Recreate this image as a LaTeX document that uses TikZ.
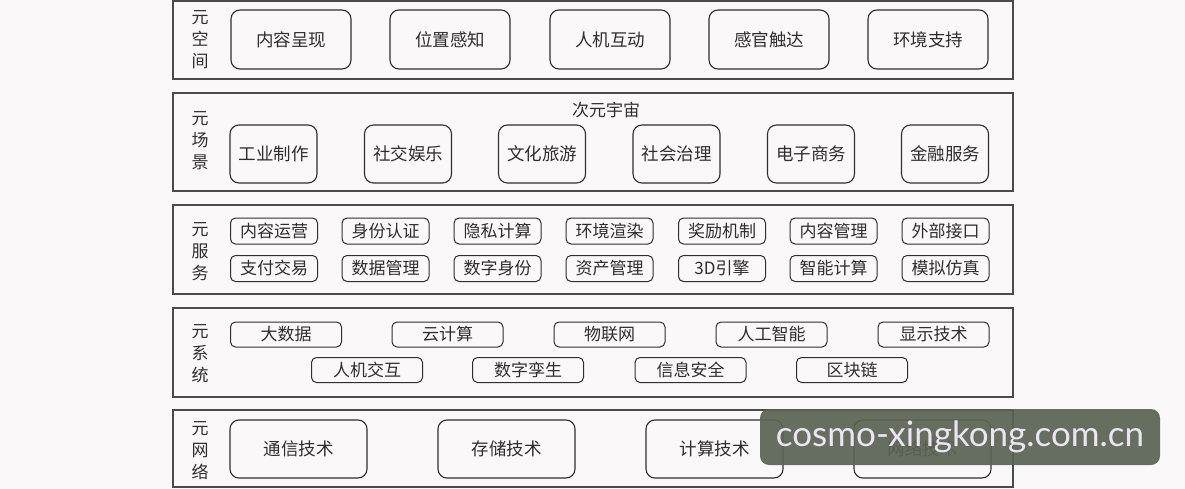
\documentclass[tikz,border=0pt]{standalone}
\usepackage{fontspec}
\usepackage{xcolor}
\usepackage{tikz}
\newfontfamily\cjk{Noto Sans CJK SC}
\newfontfamily\wmfont{Lato}
\definecolor{paper}{HTML}{FBF8FA}
\definecolor{framegray}{HTML}{4A4A4A}
\definecolor{inkgray}{HTML}{2E2E2E}
\definecolor{markgreen}{HTML}{5A6352}
\definecolor{marktext}{HTML}{ECE4F3}

\begin{document}
\begin{tikzpicture}[x=1pt,y=-1pt,
  layer/.style={draw=framegray,line width=1.3pt},
  tag/.style={align=center,inner sep=0pt,text=inkgray,font=\cjk\fontsize{17}{22}\selectfont},
  bigbox/.style={draw=inkgray,line width=1.1pt,rounded corners=9pt,inner sep=0pt,text=inkgray,
    font=\cjk\fontsize{17.5}{20}\selectfont},
  smallbox/.style={draw=inkgray,line width=1pt,rounded corners=5pt,inner sep=0pt,text=inkgray,
    font=\cjk\fontsize{17}{20}\selectfont}]
  \fill[paper] (0,0) rectangle (1185,489);
  \useasboundingbox (0,0) rectangle (1185,489);
  \draw[layer] (173,1) rectangle (1013,79);
  \draw[layer] (173,93) rectangle (1013,191);
  \draw[layer] (173,205) rectangle (1013,294);
  \draw[layer] (173,308) rectangle (1013,397);
  \draw[layer] (173,410) rectangle (1013,487);
  \node[tag] (space) at (200,40) {元\\空\\间};
  \node[tag] (scene) at (200,141) {元\\场\\景};
  \node[tag] (service) at (200,252) {元\\服\\务};
  \node[tag] (system) at (200,354) {元\\系\\统};
  \node[tag] (network) at (200,451) {元\\网\\络};
  \node[bigbox,minimum width=120pt,minimum height=59pt] (sp1) at (291,39.5) {内容呈现};
  \node[bigbox,minimum width=120pt,minimum height=59pt] (sp2) at (450,39.5) {位置感知};
  \node[bigbox,minimum width=120pt,minimum height=59pt] (sp3) at (610,39.5) {人机互动};
  \node[bigbox,minimum width=120pt,minimum height=59pt] (sp4) at (769,39.5) {感官触达};
  \node[bigbox,minimum width=120pt,minimum height=59pt] (sp5) at (928,39.5) {环境支持};
  \node[tag] (subverse) at (606,110) {次元宇宙};
  \node[bigbox,minimum width=87pt,minimum height=58pt] (sc1) at (273.5,154) {工业制作};
  \node[bigbox,minimum width=87pt,minimum height=58pt] (sc2) at (408,154) {社交娱乐};
  \node[bigbox,minimum width=87pt,minimum height=58pt] (sc3) at (542,154) {文化旅游};
  \node[bigbox,minimum width=87pt,minimum height=58pt] (sc4) at (676.5,154) {社会治理};
  \node[bigbox,minimum width=87pt,minimum height=58pt] (sc5) at (811,154) {电子商务};
  \node[bigbox,minimum width=87pt,minimum height=58pt] (sc6) at (945,154) {金融服务};
  \node[smallbox,minimum width=87pt,minimum height=26pt] (sv1) at (274,231) {内容运营};
  \node[smallbox,minimum width=87pt,minimum height=26pt] (sv2) at (385.5,231) {身份认证};
  \node[smallbox,minimum width=87pt,minimum height=26pt] (sv3) at (497.5,231) {隐私计算};
  \node[smallbox,minimum width=87pt,minimum height=26pt] (sv4) at (609.5,231) {环境渲染};
  \node[smallbox,minimum width=87pt,minimum height=26pt] (sv5) at (722,231) {奖励机制};
  \node[smallbox,minimum width=87pt,minimum height=26pt] (sv6) at (833.5,231) {内容管理};
  \node[smallbox,minimum width=87pt,minimum height=26pt] (sv7) at (945.5,231) {外部接口};
  \node[smallbox,minimum width=87pt,minimum height=26pt] (sv8) at (274,268.5) {支付交易};
  \node[smallbox,minimum width=87pt,minimum height=26pt] (sv9) at (385.5,268.5) {数据管理};
  \node[smallbox,minimum width=87pt,minimum height=26pt] (sv10) at (497.5,268.5) {数字身份};
  \node[smallbox,minimum width=87pt,minimum height=26pt] (sv11) at (609.5,268.5) {资产管理};
  \node[smallbox,minimum width=87pt,minimum height=26pt] (sv12) at (722,268.5) {3D引擎};
  \node[smallbox,minimum width=87pt,minimum height=26pt] (sv13) at (833.5,268.5) {智能计算};
  \node[smallbox,minimum width=87pt,minimum height=26pt] (sv14) at (945.5,268.5) {模拟仿真};
  \node[smallbox,minimum width=111pt,minimum height=25pt] (sy1) at (286,334.5) {大数据};
  \node[smallbox,minimum width=111pt,minimum height=25pt] (sy2) at (447.5,334.5) {云计算};
  \node[smallbox,minimum width=111pt,minimum height=25pt] (sy3) at (609.5,334.5) {物联网};
  \node[smallbox,minimum width=111pt,minimum height=25pt] (sy4) at (771.5,334.5) {人工智能};
  \node[smallbox,minimum width=111pt,minimum height=25pt] (sy5) at (933.5,334.5) {显示技术};
  \node[smallbox,minimum width=111pt,minimum height=25pt] (sy6) at (367,370) {人机交互};
  \node[smallbox,minimum width=111pt,minimum height=25pt] (sy7) at (528,370) {数字孪生};
  \node[smallbox,minimum width=111pt,minimum height=25pt] (sy8) at (690.5,370) {信息安全};
  \node[smallbox,minimum width=111pt,minimum height=25pt] (sy9) at (852,370) {区块链};
  \node[bigbox,minimum width=137pt,minimum height=58pt] (nw1) at (298.5,449) {通信技术};
  \node[bigbox,minimum width=137pt,minimum height=58pt] (nw2) at (506.5,449) {存储技术};
  \node[bigbox,minimum width=137pt,minimum height=58pt] (nw3) at (714.5,449) {计算技术};
  \node[bigbox,minimum width=137pt,minimum height=58pt] (nw4) at (922.5,449) {网络技术};
  \fill[markgreen,opacity=0.92,rounded corners=9pt] (760,409) rectangle (1160,465);
  \node[text=marktext,font=\wmfont\fontsize{35}{40}\selectfont,inner sep=0pt] (mark) at (960,437) {cosmo-xingkong.com.cn};
\end{tikzpicture}
\end{document}
